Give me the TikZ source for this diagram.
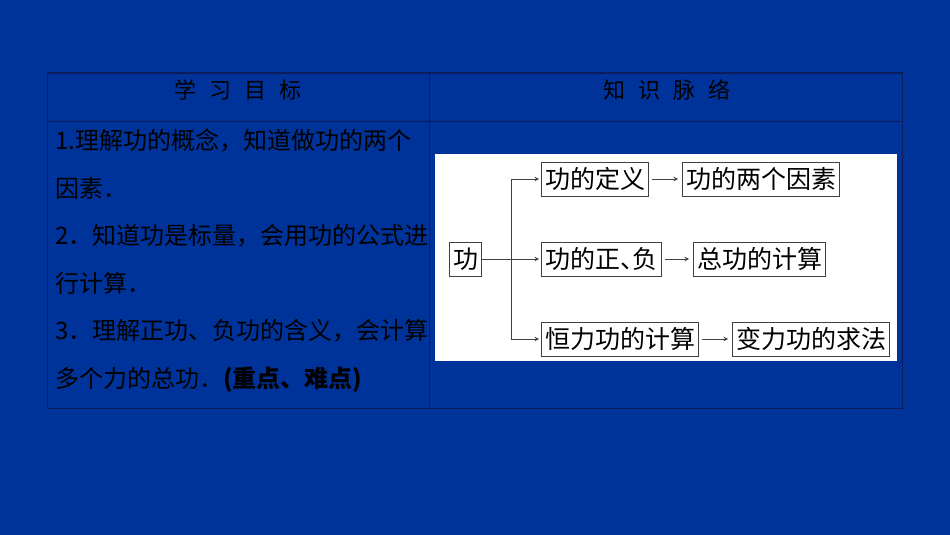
\documentclass[tikz,border=0pt]{standalone}
\usepackage{fontspec}
\usepackage{tikz}
\usetikzlibrary{arrows}
\newfontfamily\cjk{Noto Sans CJK SC}
\definecolor{slidebg}{RGB}{0,51,153}
\definecolor{gridline}{RGB}{12,28,92}
\definecolor{boxline}{RGB}{64,64,64}

\begin{document}
\begin{tikzpicture}[x=1pt, y=-1pt, >=stealth,
  goal/.style={anchor=base west, inner sep=0pt, font=\cjk\fontsize{24}{24}\selectfont},
  head/.style={inner sep=0pt, font=\cjk\fontsize{22}{22}\selectfont},
  concept/.style={draw=boxline, line width=1pt, anchor=west, inner xsep=3.5pt, inner ysep=0pt, minimum height=34pt, font=\cjk\fontsize{25}{25}\selectfont},
  link/.style={->, draw=boxline, line width=1pt, shorten >=2pt},
  nextlink/.style={link, shorten <=3pt, shorten >=4pt}]
\fill[slidebg] (0,0) rectangle (950,535);
\useasboundingbox (0,0) rectangle (950,535);
%
\draw[gridline, line width=1pt] (47,73) rectangle (902,408);
\draw[gridline, line width=1pt] (47,121) -- (902,121);
\draw[gridline, line width=1pt] (429,73) -- (429,408);
%
\node[head](goals) at (238,90) {学\hspace{13pt}习\hspace{13pt}目\hspace{13pt}标};
\node[head](map) at (667,90) {知\hspace{13pt}识\hspace{13pt}脉\hspace{13pt}络};
%
\node[goal](l1) at (55,149) {1.理解功的概念，知道做功的两个};
\node[goal](l2) at (55,197) {因素．};
\node[goal](l3) at (55,244) {2．知道功是标量，会用功的公式进};
\node[goal](l4) at (55,292) {行计算．};
\node[goal](l5) at (55,339) {3．理解正功、负功的含义，会计算};
\node[goal](l6) at (55,387) {多个力的总功．\textbf{(重点、难点)}};
%
\fill[white] (435,154) rectangle (897,361);
%
\node[concept](gong) at (449,259) {功};
\coordinate(fork) at (511,259);
%
\node[concept](def) at (541,179) {功的定义};
\node[concept](fac) at (682,179) {功的两个因素};
\draw[link](fork) |- (def) {};
\draw[nextlink](def) -- (fac) {};
%
\node[concept](sign) at (541,259) {功的正\makebox[12.5pt][l]{、}负};
\node[concept](total) at (693,259) {总功的计算};
\draw[link](gong) -- (sign) {};
\draw[nextlink](sign) -- (total) {};
%
\node[concept](const) at (541,339) {恒力功的计算};
\node[concept](var) at (732,339) {变力功的求法};
\draw[link](fork) |- (const) {};
\draw[nextlink](const) -- (var) {};
\end{tikzpicture}
\end{document}
